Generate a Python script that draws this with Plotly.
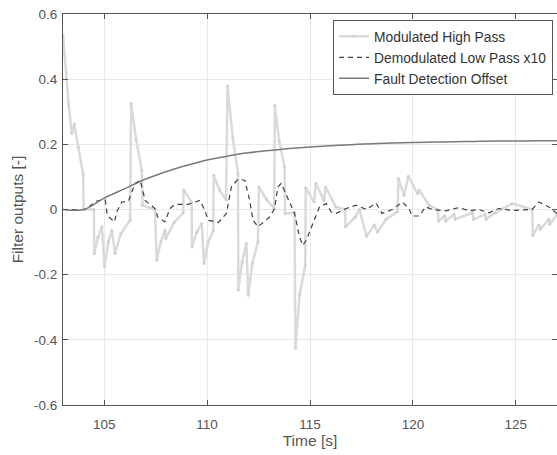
import plotly.graph_objects as go

# Modulated High Pass (time [s], value)
hp_t = [103.0, 103.27, 103.43, 103.55, 103.74, 103.98, 104.0, 104.5, 104.52, 104.7, 104.89, 105.02, 105.2, 105.37,
        105.53, 105.8, 106.26, 106.31, 106.55, 106.83, 106.86, 107.47, 107.55, 107.75, 107.95, 108.0, 108.4, 108.84, 108.86, 109.25,
        109.27, 109.5, 109.74, 109.85, 110.05, 110.3, 110.32, 110.6, 110.92, 110.99, 111.25, 111.5, 111.52, 111.7, 111.91, 112.0, 112.2, 112.47,
        112.52, 112.9, 113.26, 113.29, 113.5, 113.77, 113.79, 114.25, 114.29, 114.5, 114.77, 114.79, 115.2, 115.28, 115.68,
        115.76, 116.25, 116.7, 116.73, 117.2, 117.4, 117.75, 118.12, 118.28, 118.7, 119.25, 119.3, 119.57,
        119.78, 120.22, 120.3, 120.79, 121.2, 121.25, 121.55, 121.6, 122.0, 122.05, 122.9, 122.95,
        123.5, 123.55, 124.0, 124.3, 124.82, 125.8, 125.82, 126.12, 126.2, 126.6, 126.65, 127.0]
hp_v = [0.535, 0.324, 0.233, 0.263, 0.192, 0.108, 0.0, 0.0, -0.135, -0.085, -0.053, -0.176, -0.1, -0.064,
        -0.135, -0.075, -0.033, 0.325, 0.215, 0.12, 0.013, 0.0, -0.156, -0.1, -0.064, -0.089, -0.04, -0.01, 0.06, 0.023,
        -0.115, -0.07, -0.043, -0.166, -0.1, -0.066, 0.105, 0.06, 0.03, 0.379, 0.22, 0.11, -0.247, -0.16, -0.104, -0.263, -0.165, -0.1,
        0.069, 0.03, 0.003, 0.319, 0.21, 0.13, -0.012, -0.01, -0.426, -0.26, -0.17, 0.067, 0.023, 0.08, 0.028,
        0.069, 0.008, 0.0, -0.053, -0.023, 0.0, -0.082, -0.048, -0.069, -0.03, -0.007, 0.095, 0.044,
        0.102, 0.049, 0.06, 0.013, 0.0, -0.035, -0.02, -0.035, -0.015, -0.03, -0.01, -0.03,
        -0.015, -0.03, -0.01, 0.0, 0.018, 0.0, -0.079, -0.048, -0.06, -0.03, -0.045, -0.015]

# Demodulated Low Pass x10
lp_t = [103.0, 104.07, 104.64, 105.05, 105.15, 105.5, 105.61, 105.86, 106.18, 106.5, 106.75, 106.99,
        107.47, 107.6, 107.95, 108.2, 108.44, 109.08, 109.65, 109.89, 110.05, 110.54, 110.94, 111.18,
        111.5, 111.83, 112.07, 112.23, 112.47, 113.04, 113.28, 113.44, 113.6, 113.92, 114.25, 114.49,
        114.65, 114.82, 115.22, 115.46, 115.79, 116.03, 116.27, 116.76, 117.24, 117.75, 118.2, 118.35,
        118.5, 119.0, 119.49, 119.8, 119.97, 120.3, 120.62, 120.95, 121.6, 122.24, 122.72, 123.2,
        123.69, 124.17, 124.82, 125.79, 126.12, 126.6, 127.0]
lp_v = [0.0, 0.0, 0.026, 0.03, -0.018, -0.038, -0.007, 0.023, 0.026, 0.08, 0.09, 0.028,
        0.003, -0.023, -0.038, 0.003, 0.016, 0.016, 0.028, -0.002, -0.033, -0.04, -0.012, 0.069,
        0.093, 0.09, 0.028, -0.033, -0.053, -0.023, 0.003, 0.069, 0.08, 0.034, -0.012, -0.084,
        -0.11, -0.094, -0.033, 0.008, 0.018, -0.007, -0.012, 0.003, 0.013, 0.0, 0.02, 0.005,
        -0.012, 0.0, 0.023, 0.003, -0.02, -0.02, 0.008, 0.0, -0.004, 0.006, -0.004, 0.0,
        -0.01, 0.003, -0.003, 0.0, 0.023, 0.008, -0.012]

# Fault Detection Offset
fd_t = [103, 104, 105, 106, 107, 108, 109, 110, 111, 112, 113, 114, 115, 116, 117, 118, 119, 120,
        121, 122, 123, 124, 125, 126, 127]
fd_v = [0.0, 0.0, 0.035, 0.064, 0.093, 0.116, 0.135, 0.152, 0.164, 0.174, 0.181, 0.187, 0.192,
        0.196, 0.199, 0.202, 0.204, 0.206, 0.207, 0.208, 0.209, 0.21, 0.21, 0.211, 0.211]

y_ticks = [-0.6, -0.4, -0.2, 0, 0.2, 0.4, 0.6]
y_labels = ["-0.6", "-0.4", "-0.2", "0", "0.2", "0.4", "0.6"]
x_ticks = [105, 110, 115, 120, 125]
x_labels = ["105", "110", "115", "120", "125"]

FONT = "Liberation Sans, Arial, Helvetica, sans-serif"

fig = go.Figure()
fig.add_trace(go.Scatter(x=hp_t, y=hp_v, mode="lines+markers", name="Modulated High Pass",
                         line=dict(color="#dadada", width=2.5), marker=dict(color="#d0d0d0", size=3)))
fig.add_trace(go.Scatter(x=lp_t, y=lp_v, mode="lines", name="Demodulated Low Pass x10",
                         line=dict(color="#404040", width=1.2, dash="5px,4px")))
fig.add_trace(go.Scatter(x=fd_t, y=fd_v, mode="lines", name="Fault Detection Offset", line_shape="spline",
                         line=dict(color="#7a7a7a", width=1.5)))

axis_common = dict(showline=True, linecolor="#555555", linewidth=1, mirror="ticks",
                   ticks="inside", ticklen=5, tickcolor="#555555", automargin=False,
                   showgrid=True, gridcolor="#e8e8e8", gridwidth=1, zeroline=False,
                   tickfont=dict(family=FONT, size=13.5, color="#555555"))

fig.update_xaxes(range=[103, 127], tickvals=x_ticks, ticktext=x_labels, ticklabelstandoff=7,
                 title=dict(text="Time [s]", font=dict(family=FONT, size=15.5, color="#555555"), standoff=2),
                 **axis_common)
fig.update_yaxes(range=[-0.6, 0.6], tickvals=y_ticks, ticktext=y_labels, ticklabelstandoff=2,
                 title=dict(text="Filter outputs [-]", font=dict(family=FONT, size=15.5, color="#555555"), standoff=6),
                 **axis_common)

fig.update_layout(
    width=557, height=455,
    margin=dict(l=63, r=0, t=14, b=50),
    plot_bgcolor="white", paper_bgcolor="white",
    font=dict(family=FONT, size=13, color="#555555"),
    legend=dict(x=0.992, y=0.985, xanchor="right", yanchor="top",
                bgcolor="white", bordercolor="#555555", borderwidth=1,
                font=dict(family=FONT, size=13.8, color="#333333"),
                tracegroupgap=0),
    showlegend=True,
)

fig.write_html("out.html", config={"displayModeBar": False},
               post_script="document.body.style.margin='0';document.body.style.overflow='hidden';")
